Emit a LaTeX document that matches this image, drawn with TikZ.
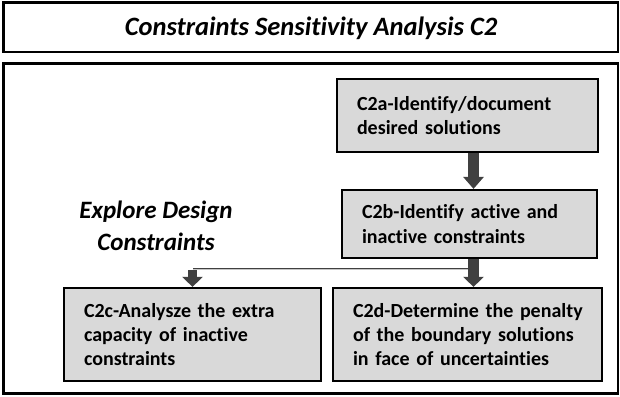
\documentclass[tikz,border=0pt]{standalone}
\usepackage{fontspec}
\setmainfont{Carlito}[Ligatures=NoCommon]
\usetikzlibrary{arrows.meta}
\definecolor{boxfill}{RGB}{217,217,217}
\definecolor{arrowgray}{RGB}{64,64,64}
\newcommand{\tightwords}{\spaceskip=0.18em plus 0.05em minus 0.02em\relax}
\tikzset{
  frame/.style={draw=black, line width=2.4pt},
  stepbox/.style={draw=black, line width=2.2pt, fill=boxfill, align=left,
    inner xsep=20pt, inner ysep=0pt, anchor=center,
    font=\fontsize{20}{24.4}\selectfont\bfseries\tightwords},
  blockarrow/.style={draw=arrowgray, line width=11pt,
    -{Triangle[width=20pt,length=12pt]}},
  branchline/.style={draw=arrowgray, line width=0.8pt,
    double=gray!45, double distance=1pt}
}
\begin{document}
\begin{tikzpicture}[x=1pt,y=-1pt]
\useasboundingbox (0,0) rectangle (620,396);
% title banner and main frame
\draw[frame] (3.5,2.5) rectangle (618,52);
\node (title) at (311,28) {\fontsize{26.5}{30}\selectfont\bfseries\itshape Constraints Sensitivity Analysis C2};
\draw[frame] (3.5,63.5) rectangle (618,393.5);

% process steps
\node[stepbox, text width=221pt, minimum height=73pt] (a) at (467.5,115.5)
  {C2a-Identify/document\\desired solutions};
\node[stepbox, text width=215pt, minimum height=68pt] (b) at (469.5,224)
  {C2b-Identify active and\\inactive constraints};
\node[stepbox, text width=217pt, minimum height=93pt] (c) at (192.5,334.5)
  {C2c-Analysze the extra\\capacity of inactive\\constraints};
\node[stepbox, text width=229pt, minimum height=93pt] (d) at (467.5,334.5)
  {\mbox{C2d-Determine the penalty}\\of the boundary solutions\\in face of uncertainties};

% side label
\node[align=center, font=\fontsize{25}{32}\selectfont\bfseries\itshape] (lbl) at (156,226)
  {Explore Design\\Constraints};

% connectors
\coordinate (col) at (473.5,0);
\coordinate (jn) at (473.5,269);
\draw[branchline] (jn) -- (c.north |- jn);
\draw[blockarrow] (a.south -| col) -- (b.north -| col);
\draw[blockarrow, -{Triangle[width=20pt,length=10pt]}] (b.south -| col) -- (d.north -| col);
\draw[blockarrow, line width=9pt, -{Triangle[width=20pt,length=10pt]}] ([yshift=-1pt]c.north |- jn) -- (c.north);
\end{tikzpicture}
\end{document}
